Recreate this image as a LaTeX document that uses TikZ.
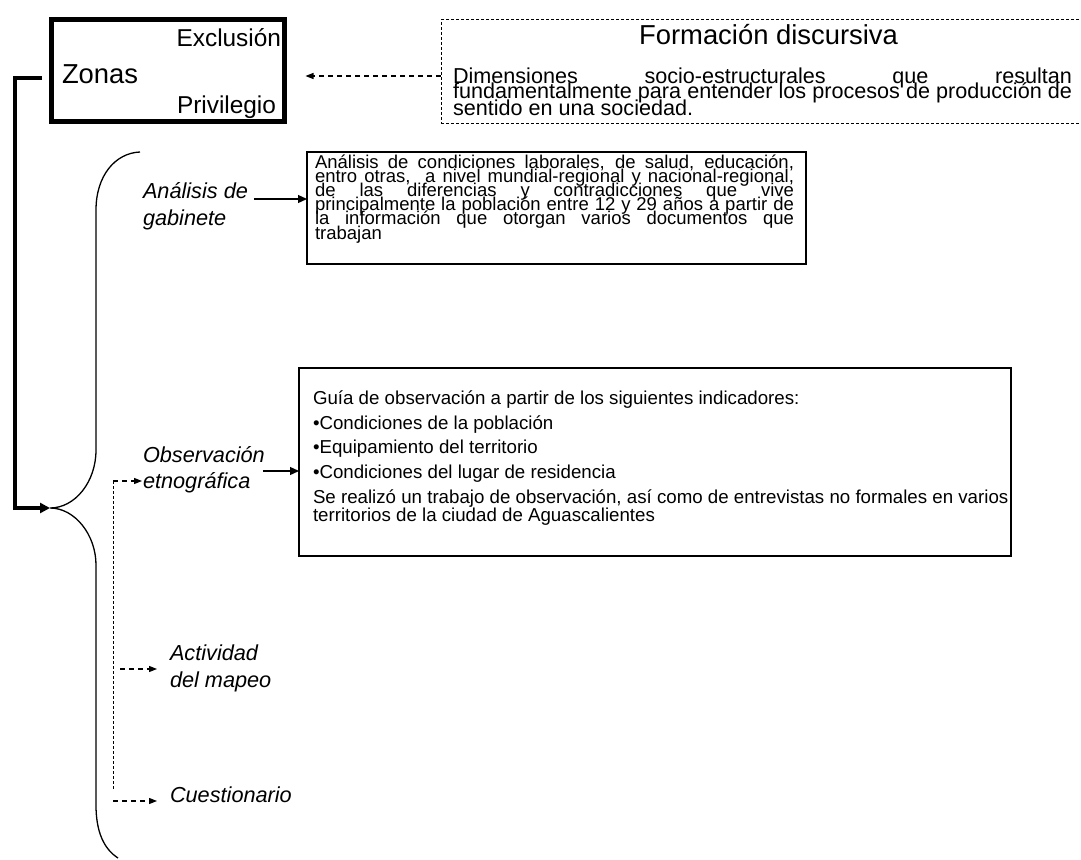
\documentclass[tikz,border=0pt]{standalone}
\usepackage{fontspec}
\setmainfont{Liberation Sans}
\usetikzlibrary{arrows.meta}
\begin{document}
\begin{tikzpicture}[x=1pt,y=-1pt,
  every node/.style={inner sep=0pt, outer sep=0pt},
  lw/.style={anchor=base west},
  le/.style={anchor=base east},
  thickbox/.style={draw, line width=5pt},
  plainbox/.style={draw, line width=1.3pt},
  dashbox/.style={draw, line width=1pt, dash pattern=on 3pt off 2pt},
  fbig/.style={font=\fontsize{27.4}{30}\selectfont},
  fmid/.style={font=\fontsize{24.4}{28}\selectfont},
  fbody/.style={font=\fontsize{21.6}{16}\selectfont},
  fsmall/.style={font=\fontsize{18.5}{14}\selectfont},
  fboxtwo/.style={font=\fontsize{18.7}{20}\selectfont},
  itlab/.style={anchor=base west, font=\fontsize{21.7}{27}\selectfont\itshape},
  solidarr/.style={line width=1.3pt, -{Triangle[length=9pt,width=8pt]}},
  dasharr/.style={line width=1.2pt, dash pattern=on 5pt off 4pt, -{Triangle[length=8pt,width=6pt]}},
  dashline/.style={line width=1pt, dash pattern=on 3pt off 2pt},
  thickline/.style={line width=3.5pt},
  bracecurve/.style={line width=1.3pt},
]
\useasboundingbox (0,0) rectangle (1081,859);

% Zonas box
\node[thickbox, minimum width=233.5pt, minimum height=101pt] (zonas) at (167.75,70.5) {};
\node[le, fmid] (zex) at (281,47) {Exclusión};
\node[lw, fbig] (zz) at (62,83) {Zonas};
\node[le, fmid] (zpr) at (276,113) {Privilegio};

% Formacion discursiva box
\node[dashbox, minimum width=655pt, minimum height=103pt] (form) at (768.5,71.5) {};
\node[anchor=base, fbig] (ftitle) at (768.5,45) {Formación discursiva};
\node[lw, fbody] (f1) at (453,83) {\makebox[619pt][s]{Dimensiones socio-estructurales que resultan}};
\node[lw, fbody] (f2) at (453,99) {\makebox[619pt][s]{fundamentalmente para entender los procesos de producción de}};
\node[lw, fbody] (f3) at (453,115) {sentido en una sociedad.};

\coordinate (fa) at ([yshift=-4.5pt]form.west);
\draw[dasharr, shorten >=21pt] (fa) -- (fa -| zonas.east);

% thick connector and brace
\coordinate (zl) at ([xshift=-9pt,yshift=-7.5pt]zonas.west);
\coordinate (tip) at (50,508);
\draw[thickline, -{Triangle[length=10pt,width=10pt]}] (zl) -- ++(-27,0) |- (tip);
\draw[bracecurve] (140,152) .. controls (115,153) and (96,176) .. (96,210) -- (96,450)
  .. controls (96,482) and (75,508) .. (tip)
  .. controls (75,508) and (96,535) .. (96,565) -- (96,805)
  .. controls (96,832) and (104,849) .. (118,858);

% Analisis de gabinete
\node[itlab] (g1) at (143,198) {Análisis de};
\node[itlab] (g2) at (143,225) {gabinete};
\node[plainbox, minimum width=499pt, minimum height=112pt] (box1) at (556.5,208) {};
\node[lw, fsmall] (b1) at (315,168) {\makebox[479pt][s]{Análisis de condiciones laborales, de salud, educación,}};
\node[lw, fsmall] (b2) at (315,182.2) {\makebox[479pt][s]{entro otras, \ a nivel mundial-regional y nacional-regional,}};
\node[lw, fsmall] (b3) at (315,196.4) {\makebox[479pt][s]{de las diferencias y contradicciones que vive}};
\node[lw, fsmall] (b4) at (315,210.6) {\makebox[479pt][s]{principalmente la población entre 12 y 29 años a partir de}};
\node[lw, fsmall] (b5) at (315,224.8) {\makebox[479pt][s]{la información que otorgan varios documentos que}};
\node[lw, fsmall] (b6) at (315,239) {trabajan};
\coordinate (ga) at ([xshift=6pt,yshift=-1pt]g1.base east);
\draw[solidarr] (ga) -- (ga -| box1.west);

% Observacion etnografica
\node[itlab] (o1) at (143,462) {Observación};
\node[itlab] (o2) at (143,488) {etnográfica};
\node[plainbox, minimum width=712pt, minimum height=188pt] (box2) at (655,462) {};
\node[lw, fboxtwo] (n1) at (313,404) {Guía de observación a partir de los siguientes indicadores:};
\node[lw, fboxtwo] (n2) at (313,429) {•Condiciones de la población};
\node[lw, fboxtwo] (n3) at (313,453) {•Equipamiento del territorio};
\node[lw, fboxtwo] (n4) at (313,478) {•Condiciones del lugar de residencia};
\node[lw, fboxtwo] (n5) at (313,503) {Se realizó un trabajo de observación, así como de entrevistas no formales en varios};
\node[lw, fboxtwo] (n6) at (313,521) {territorios de la ciudad de Aguascalientes};
\coordinate (oa) at ([xshift=-2pt,yshift=-9pt]o1.base east);
\draw[solidarr] (oa) -- (oa -| box2.west);

% Actividad del mapeo, Cuestionario
\node[itlab] (a1) at (170,660) {Actividad};
\node[itlab] (a2) at (170,687) {del mapeo};
\node[itlab] (c1) at (170,802) {Cuestionario};

\coordinate (vt) at (113,481);
\coordinate (vb) at (113,790);
\coordinate (va) at (120,669);
\coordinate (vc) at (113,801);
\draw[dashline] (vt) -- (vb);
\draw[dasharr, shorten >=1pt] (vt) -- (vt -| o2.west);
\draw[dasharr, shorten >=13pt] (va) -- (va -| a1.west);
\draw[dasharr, shorten >=13pt] (vc) -- (vc -| c1.west);
\end{tikzpicture}
\end{document}
